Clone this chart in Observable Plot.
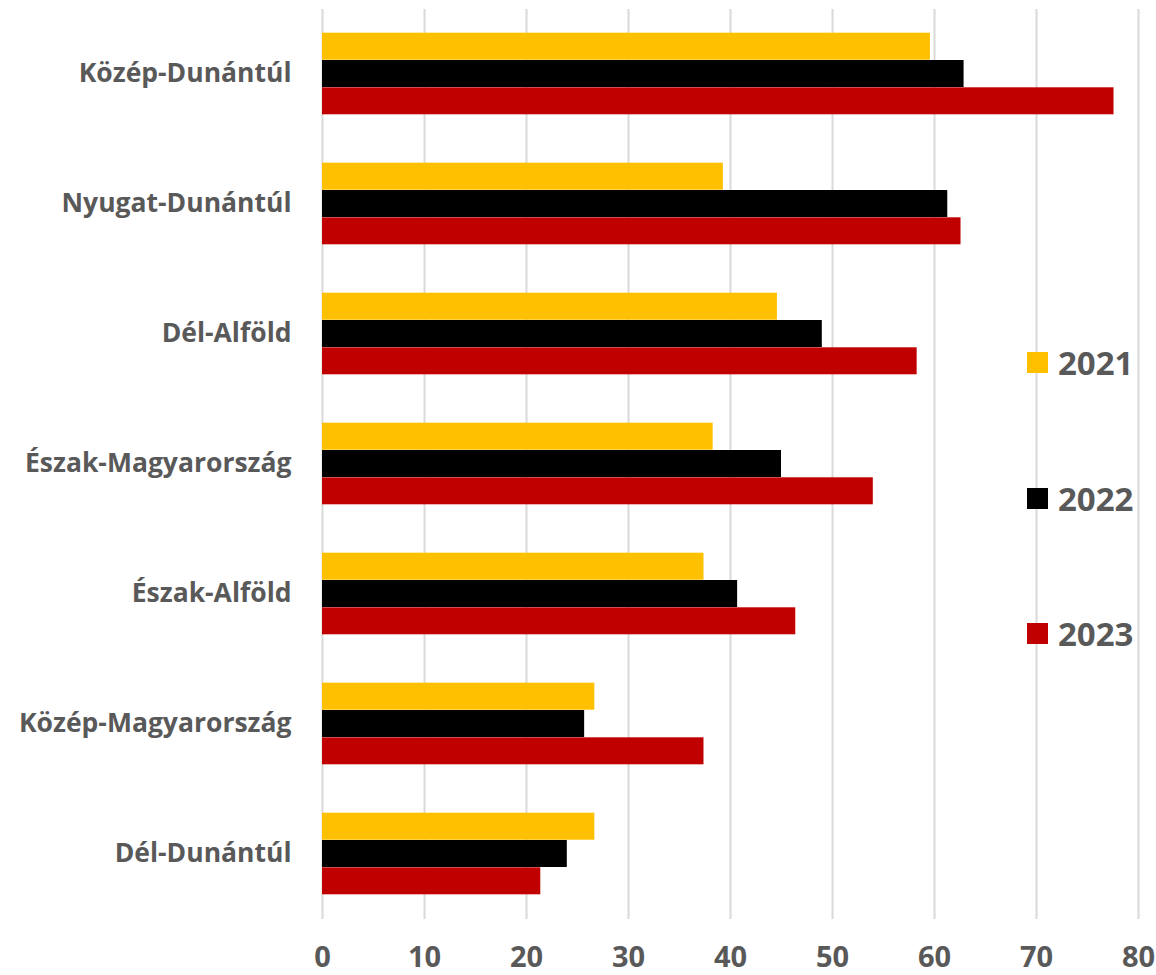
<!DOCTYPE html>
<html>
<head>
<meta charset="utf-8">
<script src="https://cdn.jsdelivr.net/npm/d3@7"></script>
<script src="https://cdn.jsdelivr.net/npm/@observablehq/plot@0.6"></script>
<style>
  html, body { margin: 0; padding: 0; background: #fff; }
  #wrap { position: relative; width: 1156px; height: 975px; font-family: "Open Sans", sans-serif; }
  #legend { position: absolute; left: 1027px; top: 0; }
  .item { position: absolute; left: 0; display: flex; align-items: center; white-space: nowrap; }
  .sw { width: 21px; height: 21px; margin-right: 10px; }
  .lab { font-weight: 700; font-size: 33px; color: #595959; line-height: 1; }
</style>
</head>
<body>
<div id="wrap"><div id="legend"></div></div>
<script>
const regions = ["Közép-Dunántúl", "Nyugat-Dunántúl", "Dél-Alföld", "Észak-Magyarország", "Észak-Alföld", "Közép-Magyarország", "Dél-Dunántúl"];
const years = ["2021", "2022", "2023"];
const colors = ["#FFC000", "#000000", "#C00000"];
const v2021 = [59.6, 39.3, 44.6, 38.3, 37.4, 26.7, 26.7];
const v2022 = [62.9, 61.3, 49.0, 45.0, 40.7, 25.7, 24.0];
const v2023 = [77.6, 62.6, 58.3, 54.0, 46.4, 37.4, 21.4];
const xTicks = [0, 10, 20, 30, 40, 50, 60, 70, 80];

const series = [v2021, v2022, v2023];
const rows = [];
years.forEach((yr, j) => regions.forEach((r, i) => rows.push({ region: r, year: yr, value: series[j][i] })));

const barH = 27.3;
const text = "#595959";
const plot = Plot.plot({
  width: 1156,
  height: 975,
  marginLeft: 322,
  marginRight: 18,
  marginTop: 9,
  marginBottom: 56,
  style: { fontFamily: "'Open Sans', sans-serif", background: "#fff" },
  x: { domain: [0, 80], ticks: xTicks },
  y: { domain: regions, paddingInner: 0.79, paddingOuter: 0.395 },
  marks: [
    Plot.gridX(xTicks, { stroke: "#d9d9d9", strokeOpacity: 1, strokeWidth: 2 }),
    ...years.map((yr, j) => Plot.barX(rows.filter(d => d.year === yr), {
      x: "value", y: "region", fill: colors[j], dy: (j - 1) * barH
    })),
    Plot.axisX(xTicks, { tickSize: 0, tickPadding: 27, fontSize: 29, fontWeight: 700, fill: text, label: null }),
    Plot.axisY({ tickSize: 0, tickPadding: 31, fontSize: 26.5, fontWeight: 700, fill: text, label: null })
  ]
});
document.getElementById("wrap").prepend(plot);

const legend = document.getElementById("legend");
const legendY = [362, 498, 633];
years.forEach((yr, j) => {
  const it = document.createElement("div");
  it.className = "item";
  it.style.top = (legendY[j] - 20) + "px";
  it.style.height = "40px";
  it.innerHTML = `<div class="sw" style="background:${colors[j]}"></div><div class="lab">${yr}</div>`;
  legend.appendChild(it);
});
</script>
</body>
</html>
